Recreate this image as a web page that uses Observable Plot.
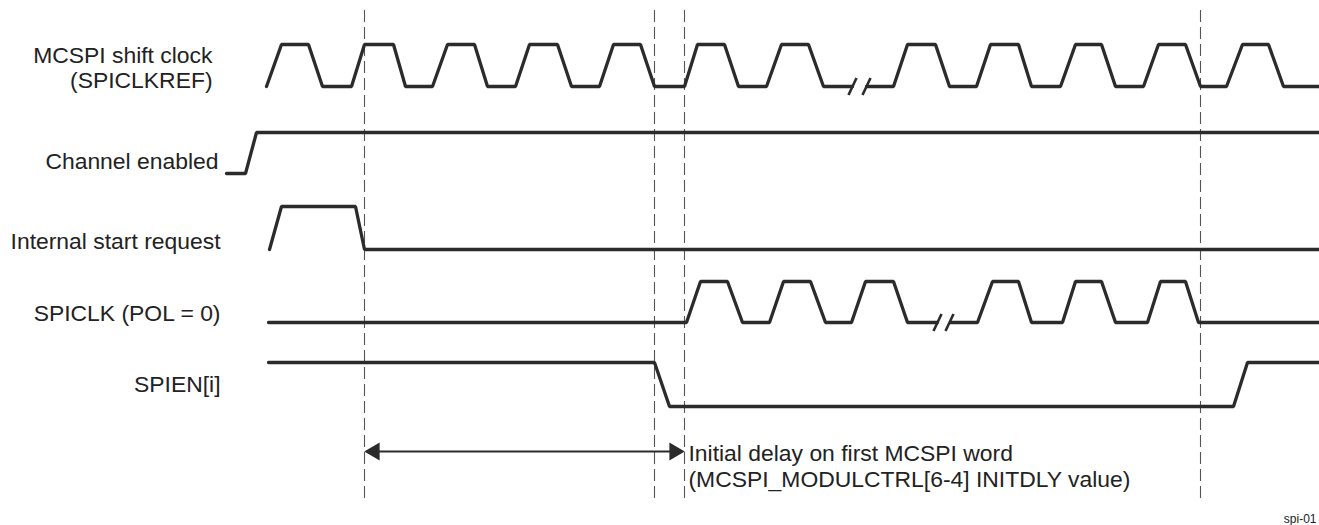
<!DOCTYPE html>
<html>
<head>
<meta charset="utf-8">
<script src="https://cdn.jsdelivr.net/npm/d3@7"></script>
<script src="https://cdn.jsdelivr.net/npm/@observablehq/plot@0.6"></script>
<style>
  html, body { margin: 0; padding: 0; background: #fff; }
  #chart svg { display: block; }
</style>
</head>
<body>
<div id="chart"></div>
<script>
// ---- data: waveform edges as [time, level] (level 0 = low, 1 = high) ----
const clockA   = [[266,0],[281,1],[308,1],[322,0],[351,0],[364,1],[393,1],[405,0],[432,0],[447,1],[474,1],[487,0],[515,0],[529,1],[557,1],[571,0],[599,0],[613,1],[640,1],[654,0],[684,0],[697,1],[724,1],[738,0],[766,0],[781,1],[808,1],[823,0],[852,0]];
const clockB   = [[866,0],[893,0],[907,1],[935,1],[949,0],[976,0],[990,1],[1018,1],[1031,0],[1060,0],[1075,1],[1101,1],[1115,0],[1143,0],[1158,1],[1185,1],[1200,0],[1226,0],[1242,1],[1268,1],[1283,0],[1319,0]];
const channelEnabled = [[226,0],[245,0],[256,1],[1319,1]];
const startRequest   = [[269,0],[281,1],[355,1],[364,0],[1319,0]];
const spiclkA  = [[268,0],[686,0],[700,1],[727,1],[742,0],[769,0],[783,1],[810,1],[825,0],[851,0],[865,1],[893,1],[907,0],[937,0]];
const spiclkB  = [[950,0],[977,0],[992,1],[1018,1],[1031,0],[1062,0],[1075,1],[1101,1],[1115,0],[1147,0],[1160,1],[1185,1],[1198,0],[1319,0]];
const spien    = [[268,1],[654,1],[669,0],[1233,0],[1247,1],[1319,1]];

const signalLabels = [
  ["MCSPI shift clock", "(SPICLKREF)"],
  ["Channel enabled"],
  ["Internal start request"],
  ["SPICLK (POL = 0)"],
  ["SPIEN[i]"]
];
const breakTimes = { clock: [852, 866], spiclk: [937, 949] };
const markerTimes = [364, 654, 684, 1200];
const delayStart = 364, delayEnd = 684;
const annotationLines = ["Initial delay on first MCSPI word", "(MCSPI_MODULCTRL[6-4] INITDLY value)"];
const footer = "spi-01";

// ---- layout (positions / styles) ----
const lanes = {           // vertical position of each lane's low and high level
  clock:   {low: 86,  high: 44},
  channel: {low: 173, high: 132},
  start:   {low: 249, high: 206},
  spiclk:  {low: 322, high: 281},
  spien:   {low: 406, high: 362}
};
const labelPos = [        // right edge x and baselines of labels
  {x: 212, y: [62, 87]},
  {x: 218, y: [168]},
  {x: 220, y: [248]},
  {x: 220, y: [320]},
  {x: 220, y: [391]}
];
const ink = "#2b2b2b";
const font = "'Liberation Sans', Arial, Helvetica, sans-serif";
const fs = 22.9;

// ---- build tables ----
const segs = [
  ["clock", clockA], ["clock", clockB], ["channel", channelEnabled],
  ["start", startRequest], ["spiclk", spiclkA], ["spiclk", spiclkB], ["spien", spien]
];
const wave = [];
segs.forEach(([sig, pts], i) => pts.forEach(([t, v]) => wave.push({seg: i, sig, t, v})));
const levelY = d => d.v ? lanes[d.sig].high : lanes[d.sig].low;

const breaks = [];
for (const sig in breakTimes) breakTimes[sig].forEach(t => breaks.push({sig, t}));

const labels = [];
signalLabels.forEach((ls, i) => ls.forEach((s, j) => labels.push({text: s, x: labelPos[i].x, y: labelPos[i].y[j]})));

const annot = annotationLines.map((s, j) => ({text: s, x: delayEnd + 4, y: [460, 486][j]}));

const chart = Plot.plot({
  width: 1319,
  height: 525,
  margin: 0,
  x: {domain: [0, 1319], range: [0, 1319], axis: null},
  y: {domain: [0, 525], range: [0, 525], axis: null},
  style: {background: "#fff", fontFamily: font},
  marks: [
    Plot.ruleX(markerTimes, {x: d => d, y1: 10, y2: 498, stroke: "#555", strokeWidth: 1.1, strokeDasharray: "12,5"}),
    Plot.line(wave, {x: "t", y: levelY, z: "seg", stroke: ink, strokeWidth: 3.3,
      strokeLinejoin: "miter", strokeLinecap: "round", curve: "linear"}),
    Plot.link(breaks, {x1: d => d.t - 4, x2: d => d.t + 4,
      y1: d => lanes[d.sig].low + 8.5, y2: d => lanes[d.sig].low - 8.5,
      stroke: ink, strokeWidth: 2.6}),
    // double-headed arrow for the initial delay
    Plot.link([{a: delayStart, b: delayEnd}], {x1: d => d.a + 10, x2: d => d.b - 10, y1: 451, y2: 451, stroke: ink, strokeWidth: 2.2}),
    Plot.dot([{t: delayStart, r: -90}],
      {x: "t", y: 451, symbol: "triangle", r: 6.6, fill: ink, stroke: "none", rotate: "r", dx: 10}),
    Plot.dot([{t: delayEnd, r: 90}],
      {x: "t", y: 451, symbol: "triangle", r: 6.6, fill: ink, stroke: "none", rotate: "r", dx: -10}),
    Plot.text(labels, {x: "x", y: "y", text: "text", textAnchor: "end", lineAnchor: "bottom",
      fontSize: fs, fill: "#222", fontFamily: font}),
    Plot.text(annot, {x: "x", y: "y", text: "text", textAnchor: "start", lineAnchor: "bottom",
      fontSize: fs, fill: "#222", fontFamily: font}),
    Plot.text([footer], {x: 1316, y: 522, text: d => d, textAnchor: "end", lineAnchor: "bottom",
      fontSize: 12, fill: "#222", fontFamily: font})
  ]
});
document.getElementById("chart").appendChild(chart);
</script>
</body>
</html>
